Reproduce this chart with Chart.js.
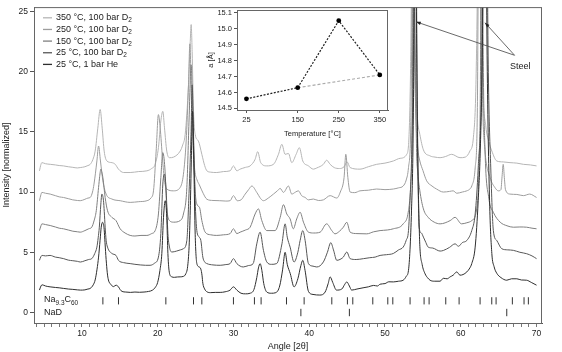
<!DOCTYPE html>
<html>
<head>
<meta charset="utf-8">
<script src="https://cdn.jsdelivr.net/npm/chart.js@4.4.1/dist/chart.umd.min.js"></script>
<style>
  body { margin: 0; background: #fff; }
  #wrap { position: relative; width: 562px; height: 352px; }
  #main { position: absolute; left: 0; top: 0; }
  #inset { position: absolute; left: 206px; top: 2px; }
</style>
</head>
<body>
<div id="wrap">
  <canvas id="main" width="562" height="352"></canvas>
  <canvas id="inset" width="188" height="136"></canvas>
</div>
<script>
// diffraction patterns, [angle 2theta, normalized intensity incl. offset]
var he25 = [[4.4,1.86],[4.6,2.2],[4.75,2.3],[5.2,2.2],[5.8,2.13],[6.5,2.08],[7.0,2.05],[7.6,2.0],[8.2,1.95],[8.8,1.92],[9.4,1.88],[9.8,1.86],[10.4,1.88],[10.8,1.95],[11.1,2.0],[11.5,2.3],[11.75,2.7],[12.0,3.6],[12.2,4.6],[12.4,6.0],[12.55,7.08],[12.72,7.49],[12.85,7.3],[12.94,6.9],[13.05,5.8],[13.2,4.4],[13.35,3.3],[13.5,2.7],[13.8,2.35],[14.17,2.15],[14.5,2.27],[14.83,2.13],[15.05,1.9],[15.3,1.75],[15.8,1.7],[16.4,1.67],[17.0,1.7],[17.6,1.68],[18.2,1.7],[18.8,1.75],[19.3,1.85],[19.7,2.1],[20.0,2.5],[20.3,3.5],[20.55,4.9],[20.77,7.9],[21.0,9.28],[21.2,7.9],[21.35,4.9],[21.56,3.26],[21.87,2.96],[22.2,2.92],[22.6,2.95],[22.97,2.96],[23.4,3.0],[23.7,3.2],[23.95,3.8],[24.15,5.5],[24.3,8.5],[24.42,12.0],[24.6,16.7],[24.78,12.0],[24.95,6.5],[25.17,4.07],[25.48,3.78],[25.7,3.6],[25.85,3.1],[25.96,2.43],[26.2,1.95],[26.5,1.72],[27.0,1.65],[27.6,1.67],[28.25,1.67],[28.9,1.72],[29.56,1.86],[30.0,2.13],[30.45,1.86],[31.0,1.6],[31.6,1.55],[32.2,1.6],[32.7,1.9],[33.08,2.9],[33.3,3.7],[33.52,4.06],[33.75,3.5],[34.0,2.4],[34.4,1.7],[35.0,1.6],[35.6,1.65],[36.1,2.2],[36.5,3.6],[36.82,5.0],[37.1,4.0],[37.5,3.23],[38.0,2.13],[38.5,2.8],[38.9,3.9],[39.15,4.33],[39.45,3.5],[39.9,1.75],[40.5,1.5],[41.4,1.45],[42.1,1.7],[42.5,2.4],[42.76,2.96],[43.1,2.5],[43.6,1.86],[44.3,1.95],[44.7,2.35],[44.96,2.54],[45.3,2.2],[45.6,1.86],[46.3,1.95],[47.1,2.05],[47.8,2.13],[48.5,2.25],[49.0,2.2],[49.35,2.35],[50.0,2.4],[50.5,2.55],[51.1,2.54],[51.8,2.6],[52.4,2.68],[52.8,3.0],[53.1,3.5],[53.3,5.2],[53.5,8.5],[53.7,14],[53.85,25],[54.0,45],[54.15,25],[54.3,14],[54.5,7.5],[54.6,5.5],[54.9,4.0],[55.3,3.2],[55.6,2.9],[55.95,2.68],[56.5,2.6],[57.27,2.6],[57.7,2.84],[58.2,2.8],[58.6,2.96],[59.0,3.1],[59.47,3.37],[59.9,3.1],[60.3,3.15],[60.8,3.37],[61.2,3.7],[61.45,4.06],[61.9,5.43],[62.3,9.28],[62.6,14],[62.85,22],[63.15,45],[63.5,20],[63.8,9.28],[64.1,4.9],[64.4,3.8],[64.75,3.26],[65.3,2.9],[66.07,2.68],[66.7,2.8],[67.4,2.8],[68.0,2.7],[68.7,2.68],[69.3,2.5],[70.0,2.27]];

var d2_25 = [[4.4,4.33],[4.6,4.65],[4.75,4.74],[5.2,4.7],[5.8,4.74],[6.5,4.6],[7.0,4.55],[7.6,4.47],[8.2,4.35],[8.8,4.3],[9.4,4.25],[9.8,4.19],[10.4,4.3],[10.9,4.4],[11.3,4.47],[11.7,4.9],[11.98,5.43],[12.15,6.2],[12.3,7.08],[12.5,9.0],[12.64,9.83],[12.85,9.28],[12.95,8.4],[13.07,7.08],[13.2,6.0],[13.38,5.43],[13.96,4.9],[14.5,4.74],[14.83,4.33],[15.5,4.14],[16.37,4.06],[17.0,4.0],[17.7,3.95],[18.4,3.92],[19.0,3.92],[19.6,4.1],[20.1,4.6],[20.42,6.56],[20.68,10.66],[20.9,11.48],[21.12,10.1],[21.35,6.56],[21.56,5.43],[21.87,5.02],[22.5,5.1],[23.0,5.2],[23.4,5.3],[23.85,5.98],[24.1,9.28],[24.4,14.8],[24.55,18.9],[24.73,14.8],[24.95,9.28],[25.17,6.8],[25.48,6.26],[25.7,5.98],[25.96,4.6],[26.2,4.2],[26.5,4.06],[27.3,3.95],[28.25,3.92],[29.0,3.98],[29.56,4.06],[30.0,4.47],[30.45,4.06],[31.3,3.78],[32.0,3.9],[32.6,4.06],[33.08,5.7],[33.52,6.67],[33.96,5.16],[34.4,4.2],[35.0,4.0],[35.7,4.06],[36.4,5.7],[36.82,7.36],[37.1,6.26],[37.48,5.43],[38.0,4.19],[38.5,5.0],[38.8,5.98],[39.15,6.8],[39.46,5.98],[39.9,4.06],[40.5,3.85],[41.0,3.78],[41.87,4.2],[42.4,5.0],[42.85,5.8],[43.2,5.2],[43.64,4.33],[44.2,4.45],[44.5,4.6],[44.96,5.02],[45.4,4.47],[46.2,4.4],[47.15,4.47],[48.0,4.55],[48.7,4.6],[49.35,4.74],[50.2,4.8],[51.1,4.9],[51.8,5.2],[52.4,5.43],[52.8,6.0],[53.1,6.8],[53.3,9.28],[53.55,14],[53.8,25],[54.0,48],[54.15,28],[54.3,15],[54.5,7.08],[54.8,6.6],[55.07,6.26],[55.4,5.8],[55.7,5.43],[56.3,5.35],[57.27,5.1],[57.7,5.15],[58.5,5.4],[59.25,5.7],[59.7,5.5],[60.2,5.8],[60.8,5.98],[61.45,6.8],[61.9,8.18],[62.3,12.0],[62.77,19.9],[63.2,48],[63.64,19.9],[63.96,12.0],[64.3,6.8],[64.75,5.98],[65.4,5.3],[66.2,5.2],[66.94,5.16],[67.8,5.0],[68.7,4.88],[69.4,4.7],[70.0,4.47]];

var d2_150 = [[4.4,6.8],[4.6,7.2],[4.72,7.36],[5.2,7.3],[5.82,7.22],[6.5,7.1],[7.0,7.0],[7.57,6.95],[8.2,6.85],[8.8,6.75],[9.4,6.7],[9.78,6.67],[10.4,6.8],[10.9,6.95],[11.3,7.08],[11.6,7.6],[11.9,8.46],[12.2,10.38],[12.35,11.3],[12.5,11.9],[12.65,11.6],[12.77,11.2],[13.07,9.55],[13.38,8.46],[13.96,7.9],[14.5,7.63],[15.05,6.95],[15.7,6.6],[16.37,6.4],[17.0,6.35],[17.8,6.4],[18.58,6.4],[19.2,6.55],[19.67,6.8],[20.1,8.18],[20.42,11.2],[20.68,13.27],[20.95,12.0],[21.2,8.73],[21.56,7.63],[22.1,7.5],[22.97,7.63],[23.4,8.18],[23.85,10.38],[24.15,16.15],[24.42,20.56],[24.64,16.15],[24.9,10.66],[25.17,9.0],[25.52,8.73],[25.83,7.63],[26.27,6.67],[27.0,6.45],[27.8,6.4],[28.7,6.45],[29.56,6.55],[30.0,6.95],[30.45,6.55],[30.88,6.67],[31.6,6.85],[32.2,7.08],[32.86,8.18],[33.3,8.6],[33.74,7.63],[34.4,6.8],[35.5,6.8],[36.17,7.9],[36.6,8.95],[37.04,8.18],[37.48,7.77],[37.9,6.95],[38.35,7.77],[38.8,8.32],[39.24,7.5],[39.9,6.67],[40.6,6.6],[41.44,6.67],[42.3,7.36],[42.98,6.8],[43.4,6.53],[44.0,6.75],[44.5,7.08],[44.96,7.49],[45.4,6.67],[46.3,6.55],[47.6,6.53],[48.5,6.7],[49.35,6.8],[50.3,6.85],[51.1,6.95],[52.4,7.36],[53.1,8.46],[53.4,10.66],[53.6,16],[53.78,45],[53.95,25],[54.15,14],[54.35,11.5],[54.6,10.1],[55.07,8.6],[55.7,7.9],[56.5,7.5],[57.27,7.36],[58.6,7.63],[59.25,7.9],[60.1,7.36],[60.8,7.45],[61.45,7.63],[62.1,8.6],[62.4,11.9],[62.6,20],[62.75,45],[62.95,22],[63.2,13.5],[63.7,9.5],[64.3,8.32],[65.2,7.5],[66.1,7.2],[66.94,7.08],[67.8,7.1],[68.7,7.08],[69.4,7.0],[70.0,6.95]];

var d2_250 = [[4.4,9.28],[4.6,9.8],[4.72,9.97],[5.2,9.9],[5.82,9.83],[6.5,9.7],[7.0,9.6],[7.57,9.55],[8.2,9.45],[8.8,9.35],[9.4,9.3],[9.78,9.28],[10.4,9.4],[10.8,9.5],[11.1,9.55],[11.4,10.0],[11.6,10.66],[11.98,12.58],[12.2,13.82],[12.45,12.58],[12.77,10.93],[13.2,9.83],[13.96,9.42],[15.05,9.28],[16.37,9.14],[17.5,9.2],[18.58,9.28],[19.1,9.5],[19.45,10.1],[19.8,13.4],[20.1,16.43],[20.33,15.33],[20.63,12.85],[20.9,10.93],[21.2,10.25],[22.1,10.1],[22.97,10.38],[23.4,11.48],[23.76,14.23],[24.07,18.9],[24.25,22.3],[24.45,18],[24.65,14],[24.9,11.8],[25.2,11.0],[25.5,10.6],[26.0,9.9],[26.5,9.4],[27.3,9.3],[28.2,9.28],[29.0,9.25],[29.56,9.28],[30.0,9.7],[30.5,9.28],[31.0,9.35],[31.55,9.83],[32.0,10.2],[32.43,10.5],[33.08,9.97],[33.6,9.45],[33.96,9.28],[34.6,9.5],[35.28,9.83],[35.8,10.1],[36.17,10.3],[36.6,9.97],[37.26,10.5],[37.7,9.83],[38.2,10.0],[38.57,10.1],[39.0,9.7],[39.46,9.55],[39.9,9.35],[40.55,9.42],[41.2,9.3],[41.87,9.35],[42.76,9.7],[43.64,9.5],[44.1,10.0],[44.6,11.2],[44.83,13.13],[45.1,11.2],[45.4,10.0],[46.0,9.95],[46.7,10.1],[47.8,10.15],[48.9,10.25],[50.0,10.2],[51.1,10.25],[51.8,10.35],[52.4,10.5],[52.8,11.0],[53.1,12.03],[53.4,15.5],[53.55,25],[53.7,45],[53.85,25],[54.1,16],[54.35,13.5],[54.6,12.58],[55.0,11.8],[55.5,10.93],[56.2,10.5],[56.8,10.25],[57.7,10.0],[58.5,10.05],[59.0,10.1],[59.47,9.9],[60.2,10.0],[60.8,10.1],[61.2,10.25],[61.45,10.5],[61.9,12.0],[62.2,17.5],[62.45,45],[62.7,25],[62.9,17],[63.2,13.4],[63.87,11.2],[64.5,10.38],[64.96,10.1],[65.3,10.2],[65.45,11.3],[65.6,12.3],[65.75,11.2],[65.9,10.2],[66.5,9.83],[67.4,9.8],[68.26,9.7],[69.1,9.83],[70.0,9.55]];

var d2_350 = [[4.4,11.76],[4.6,12.3],[4.72,12.44],[5.2,12.35],[5.82,12.3],[6.5,12.25],[7.0,12.2],[7.57,12.17],[8.2,12.1],[8.8,12.05],[9.4,12.0],[9.78,12.03],[10.4,12.1],[10.8,12.2],[11.1,12.3],[11.45,12.7],[11.75,13.4],[12.1,15.3],[12.41,16.85],[12.68,15.3],[12.94,13.4],[13.3,12.58],[13.96,12.44],[14.4,12.3],[14.83,11.9],[15.5,11.62],[16.37,11.62],[17.5,11.7],[18.58,11.76],[19.2,11.95],[19.67,12.3],[20.1,13.68],[20.42,15.9],[20.68,16.7],[20.9,15.33],[21.2,13.4],[21.56,12.85],[22.1,12.9],[22.97,13.4],[23.3,13.9],[23.63,14.78],[24.07,18.9],[24.3,22.5],[24.42,23.9],[24.55,21.66],[24.73,16.7],[24.95,14.78],[25.38,14.23],[25.83,13.13],[26.2,12.2],[26.5,11.76],[27.0,11.65],[27.8,11.62],[28.7,11.7],[29.56,11.76],[30.0,12.17],[30.45,11.76],[30.88,11.9],[31.6,12.05],[32.2,12.17],[32.86,12.72],[33.2,13.35],[33.6,12.44],[34.4,12.17],[35.28,12.3],[35.94,13.13],[36.39,13.96],[36.82,13.13],[37.26,13.2],[37.7,12.44],[38.27,13.13],[38.7,13.68],[39.15,12.58],[39.9,12.17],[40.55,11.9],[41.0,12.0],[41.87,12.3],[42.3,12.64],[42.76,12.3],[43.3,12.03],[44.0,11.95],[44.6,12.1],[45.0,12.5],[45.4,12.03],[46.7,11.9],[47.8,12.1],[48.9,12.3],[50.0,12.4],[51.1,12.58],[52.0,12.8],[52.87,13.13],[53.3,17.5],[53.5,28],[53.65,45],[53.8,28],[54.0,20],[54.3,16],[54.6,14.78],[55.07,13.5],[55.95,13.0],[56.6,12.9],[57.27,12.85],[58.0,12.95],[58.8,13.13],[59.9,12.85],[60.6,12.9],[61.2,13.4],[61.66,14.5],[62.0,18.9],[62.25,30],[62.45,45],[62.65,30],[62.85,20],[63.3,15.5],[63.7,14.2],[64.1,13.4],[64.75,12.58],[65.6,12.5],[66.5,12.44],[67.4,12.4],[68.26,12.3],[69.2,12.25],[70.0,12.17]];

// legend order top -> bottom
var seriesLabels = ["350 °C, 100 bar D_{2}", "250 °C, 100 bar D_{2}", "150 °C, 100 bar D_{2}", "25 °C, 100 bar D_{2}", "25 °C, 1 bar He"];
var seriesData = [d2_350, d2_250, d2_150, d2_25, he25];
var seriesColors = ["#b5b5b5", "#9d9d9d", "#808080", "#575757", "#2e2e2e"];

// reflection markers
var naTickAngles = [12.77, 14.83, 21.08, 24.73, 25.83, 30.0, 32.77, 33.65, 37.0, 39.33, 42.98, 45.04, 45.75, 48.39, 50.37, 51.03, 53.31, 55.16, 55.82, 58.02, 59.78, 62.55, 64.09, 64.66, 66.81, 68.35, 68.92];
var nadTickAngles = [38.9, 45.3, 66.07];
var markerRows = ["Na_{9.3}C_{60}", "NaD"];

// inset: lattice parameter vs temperature
var insetTemps = [25, 150, 250, 350];
var insetLattice = [14.56, 14.63, 15.05, 14.71];
var insetTrendTemps = [150, 350];
var insetTrendLattice = [14.63, 14.71];

var FONT = '"Liberation Sans", Arial, Helvetica, sans-serif';
var TXT = "#222";

function drawRich(c, text, x, y, size) {
  var parts = text.split(/(_\{[^}]*\})/).filter(Boolean);
  parts.forEach(function (p) {
    var sub = p.indexOf("_{") === 0;
    var t = sub ? p.slice(2, -1) : p;
    c.font = (sub ? size * 0.72 : size) + "px " + FONT;
    c.fillText(t, x, sub ? y + size * 0.32 : y);
    x += c.measureText(t).width;
  });
}

var frame = {
  id: "frame",
  afterDraw: function (chart) {
    var a = chart.chartArea, c = chart.ctx;
    c.save();
    c.strokeStyle = "#666";
    c.lineWidth = 1;
    c.strokeRect(a.left + 0.5, a.top + 0.5, a.right - a.left - 1, a.bottom - a.top);
    c.restore();
  }
};

var annotations = {
  id: "annotations",
  afterDraw: function (chart) {
    var c = chart.ctx, a = chart.chartArea;
    var xs = chart.scales.x, ys = chart.scales.y;
    c.save();
    c.fillStyle = TXT;
    c.textBaseline = "middle";
    c.textAlign = "left";
    // legend
    seriesLabels.forEach(function (lab, i) {
      var y = a.top + 10.7 + i * 11.65;
      c.strokeStyle = seriesColors[i];
      c.lineWidth = 1.3;
      c.beginPath();
      c.moveTo(a.left + 9, y);
      c.lineTo(a.left + 18, y);
      c.stroke();
      drawRich(c, lab, a.left + 22, y, 9);
    });
    // marker row labels
    drawRich(c, markerRows[0], a.left + 10, ys.getPixelForValue(0.97) - 1, 9);
    drawRich(c, markerRows[1], a.left + 10, ys.getPixelForValue(0), 9);
    // steel arrows
    var tail = [xs.getPixelForValue(67.1), ys.getPixelForValue(21.35)];
    [[54.1, 24.13], [63.2, 24.05]].forEach(function (tip) {
      var tx = xs.getPixelForValue(tip[0]), ty = ys.getPixelForValue(tip[1]);
      var ang = Math.atan2(ty - tail[1], tx - tail[0]);
      c.strokeStyle = "#444";
      c.lineWidth = 0.8;
      c.beginPath();
      c.moveTo(tail[0], tail[1]);
      c.lineTo(tx, ty);
      c.stroke();
      c.fillStyle = "#222";
      c.beginPath();
      c.moveTo(tx, ty);
      c.lineTo(tx - 5 * Math.cos(ang - 0.35), ty - 5 * Math.sin(ang - 0.35));
      c.lineTo(tx - 5 * Math.cos(ang + 0.35), ty - 5 * Math.sin(ang + 0.35));
      c.closePath();
      c.fill();
    });
    c.fillStyle = TXT;
    c.font = "9px " + FONT;
    c.fillText("Steel", xs.getPixelForValue(66.5), ys.getPixelForValue(20.4));
    c.restore();
  }
};

// datasets: darkest drawn on top (dataset 0 is painted last)
var datasets = [];
for (var i = seriesData.length - 1; i >= 0; i--) {
  datasets.push({
    label: seriesLabels[i],
    data: seriesData[i].map(function (p) { return { x: p[0], y: p[1] }; }),
    borderColor: seriesColors[i],
    borderWidth: 1,
    pointRadius: 0,
    cubicInterpolationMode: "monotone",
    fill: false
  });
}
datasets.push({
  label: "Na9.3C60",
  data: naTickAngles.map(function (v) { return { x: v, y: 0.97 }; }),
  showLine: false, pointStyle: "line", rotation: 90, pointRadius: 3.6,
  borderColor: "#333", borderWidth: 1
});
datasets.push({
  label: "NaD",
  data: nadTickAngles.map(function (v) { return { x: v, y: 0 }; }),
  showLine: false, pointStyle: "line", rotation: 90, pointRadius: 3.7,
  borderColor: "#333", borderWidth: 1
});

new Chart(document.getElementById("main").getContext("2d"), {
  type: "line",
  data: { datasets: datasets },
  options: {
    responsive: false,
    animation: false,
    devicePixelRatio: 1,
    layout: { padding: { left: 1, right: 20, top: 5, bottom: 0 } },
    plugins: { legend: { display: false }, tooltip: { enabled: false } },
    scales: {
      x: {
        type: "linear", min: 3.68, max: 70.72,
        ticks: {
          stepSize: 1, autoSkip: false, includeBounds: false, maxRotation: 0, padding: 2,
          color: TXT, font: { family: FONT, size: 8.5 },
          callback: function (v) { return Math.round(v) % 10 === 0 ? String(Math.round(v)) : ""; }
        },
        grid: { drawOnChartArea: false, tickLength: 4, color: "#555", tickWidth: 0.8 },
        border: { color: "#555" },
        title: { display: true, text: "Angle [2θ]", color: TXT, font: { family: FONT, size: 9 }, padding: 0 },
        afterFit: function (s) { s.height = 29; }
      },
      y: {
        type: "linear", min: -0.87, max: 25.35,
        ticks: { stepSize: 5, includeBounds: false, padding: 2, color: TXT, font: { family: FONT, size: 8.5 } },
        grid: { drawOnChartArea: false, tickLength: 4, color: "#555" },
        border: { color: "#555" },
        title: { display: true, text: "Intensity [normalized]", color: TXT, font: { family: FONT, size: 9 }, padding: 0 },
        afterFit: function (s) { s.width = 33; }
      }
    }
  },
  plugins: [frame, annotations]
});

var insetBg = {
  id: "insetBg",
  beforeDatasetsDraw: function (chart) {
    var a = chart.chartArea, c = chart.ctx;
    c.save();
    c.fillStyle = "#fff";
    c.fillRect(a.left, a.top, a.right - a.left, a.bottom - a.top);
    c.restore();
  }
};

new Chart(document.getElementById("inset").getContext("2d"), {
  type: "line",
  data: {
    datasets: [
      {
        data: insetTemps.map(function (t, i) { return { x: t, y: insetLattice[i] }; }),
        borderColor: "#222", borderWidth: 1.2, borderDash: [2, 1.5],
        pointRadius: 2.4, pointBackgroundColor: "#000", pointBorderWidth: 0
      },
      {
        data: insetTrendTemps.map(function (t, i) { return { x: t, y: insetTrendLattice[i] }; }),
        borderColor: "#aaa", borderWidth: 1.1, borderDash: [3, 2], pointRadius: 0
      }
    ]
  },
  options: {
    responsive: false,
    animation: false,
    devicePixelRatio: 1,
    layout: { padding: { left: 0, right: 6, top: 8, bottom: 0 } },
    plugins: { legend: { display: false }, tooltip: { enabled: false } },
    scales: {
      x: {
        type: "linear", min: 2, max: 370,
        afterBuildTicks: function (s) { s.ticks = insetTemps.map(function (v) { return { value: v }; }); },
        ticks: { maxRotation: 0, padding: 2, color: TXT, font: { family: FONT, size: 7.5 } },
        grid: { drawOnChartArea: false, tickLength: 3, color: "#555" },
        border: { color: "#555" },
        title: { display: true, text: "Temperature [°C]", color: TXT, font: { family: FONT, size: 7.5 }, padding: 0 },
        afterFit: function (s) { s.height = 28; }
      },
      y: {
        type: "linear", min: 14.49, max: 15.117,
        ticks: {
          stepSize: 0.1, includeBounds: false, padding: 2, color: TXT, font: { family: FONT, size: 7.5 },
          callback: function (v) { return v.toFixed(1); }
        },
        grid: { drawOnChartArea: false, tickLength: 3, color: "#555" },
        border: { color: "#555" },
        title: { display: true, text: "a [Å]", color: TXT, font: { family: FONT, size: 7.5 }, padding: 0 },
        afterFit: function (s) { s.width = 31; }
      }
    }
  },
  plugins: [insetBg, frame]
});
</script>
</body>
</html>
